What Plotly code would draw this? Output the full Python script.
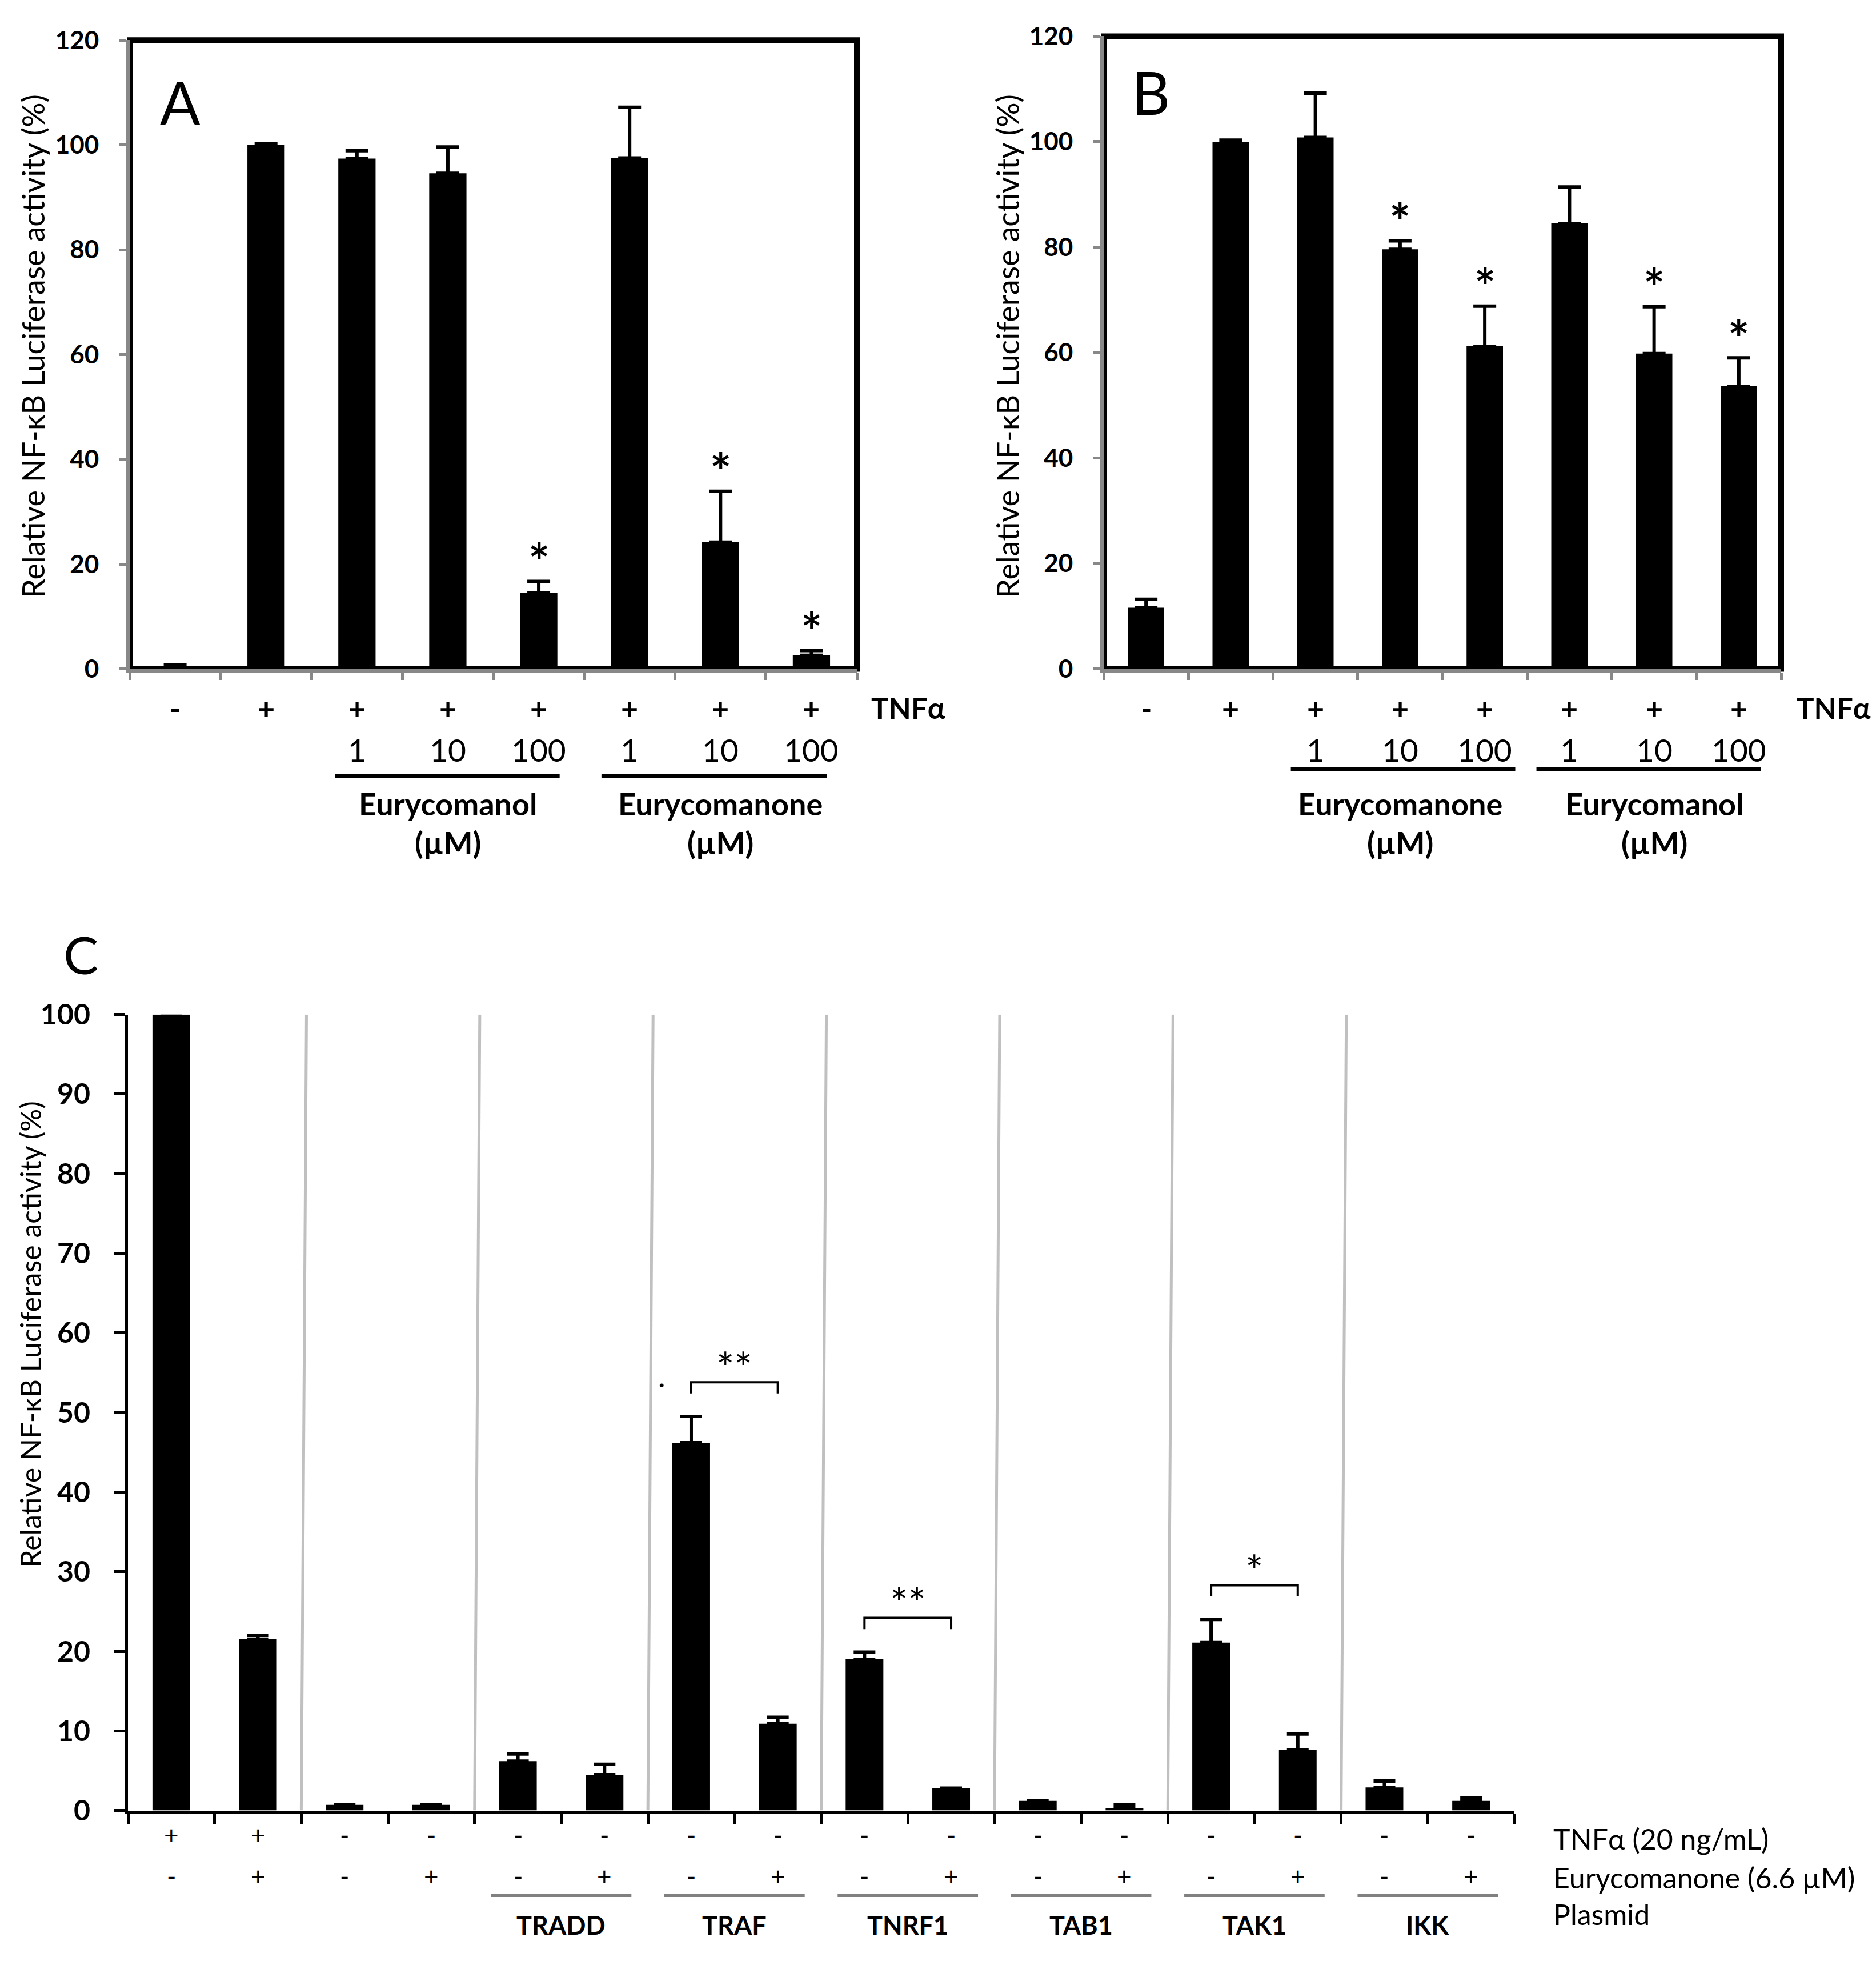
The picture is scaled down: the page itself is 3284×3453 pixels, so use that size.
import plotly.graph_objects as go

W, H = 3284, 3453
FONT = "Lato"

# ---- panel A : TNFa + Eurycomanol / Eurycomanone
a_vals = [0.6, 100.0, 97.4, 94.6, 14.5, 97.5, 24.2, 2.6]
a_err = [0.2, 0.3, 1.5, 5.0, 2.2, 9.7, 9.7, 0.9]
a_tnf = ["-", "+", "+", "+", "+", "+", "+", "+"]
a_dose = ["", "", "1", "10", "100", "1", "10", "100"]
a_sig = ["", "", "", "", "*", "", "*", "*"]
a_groups = ["Eurycomanol", "Eurycomanone"]

# ---- panel B : reversed order of compounds
b_vals = [11.6, 100.0, 100.8, 79.6, 61.2, 84.5, 59.8, 53.6]
b_err = [1.6, 0.3, 8.4, 1.6, 7.6, 6.9, 8.9, 5.4]
b_tnf = ["-", "+", "+", "+", "+", "+", "+", "+"]
b_dose = ["", "", "1", "10", "100", "1", "10", "100"]
b_sig = ["", "", "", "*", "*", "", "*", "*"]
b_groups = ["Eurycomanone", "Eurycomanol"]

# ---- panel C : plasmid overexpression
c_vals = [100.0, 21.5, 0.7, 0.7, 6.2, 4.5, 46.2, 10.9, 19.0, 2.8, 1.2, 0.3, 21.1, 7.6, 2.9, 1.2]
c_err = [0.0, 0.5, 0.0, 0.0, 0.9, 1.3, 3.3, 0.8, 0.9, 0.0, 0.0, 0.4, 2.9, 2.0, 0.8, 0.4]
c_tnf = ["+", "+", "-", "-", "-", "-", "-", "-", "-", "-", "-", "-", "-", "-", "-", "-"]
c_eury = ["-", "+", "-", "+", "-", "+", "-", "+", "-", "+", "-", "+", "-", "+", "-", "+"]
c_plasmid = ["", "", "TRADD", "TRAF", "TNRF1", "TAB1", "TAK1", "IKK"]
c_sig = {"TRAF": "**", "TNRF1": "**", "TAK1": "*"}
c_rows = ["TNFα (20 ng/mL)", "Eurycomanone (6.6 µM)", "Plasmid"]
y_title = "Relative NF-κB Luciferase activity (%)"


def px(p):
    return p / W


def py(p):
    return 1 - p / H


def font(size, bold=False):
    return dict(family=FONT, size=size, color="black", weight="bold" if bold else "normal")


def note(text, x, y, xref="paper", yref="paper", size=40, bold=False, xanchor="center",
         yanchor="middle", angle=0):
    return dict(text=text, x=x, y=y, xref=xref, yref=yref, xanchor=xanchor, yanchor=yanchor,
                textangle=angle, showarrow=False, font=font(size, bold))


fig = go.Figure()
ann = []
shapes = []


def bar_trace(vals, err, xa, ya, bw, cap):
    return go.Bar(
        x=list(range(1, len(vals) + 1)), y=vals, xaxis=xa, yaxis=ya,
        width=bw, marker=dict(color="black", line=dict(width=0)),
        error_y=dict(type="data", array=err, arrayminus=[0] * len(err), symmetric=False,
                     color="black", thickness=6, width=cap),
        hoverinfo="skip")


# A and B share the same style
panels = [
    dict(xa="x", ya="y", vals=a_vals, err=a_err, tnf=a_tnf, dose=a_dose, sig=a_sig,
         groups=a_groups, letter="A", box=(227, 1500, 39, 1159), bw=0.41,
         ulines=[(2.76, 5.23), (5.69, 8.17)], uy=1350, tnf_x=1523, lpos=(315, 148), tx=58),
    dict(xa="x2", ya="y2", vals=b_vals, err=b_err, tnf=b_tnf, dose=b_dose, sig=b_sig,
         groups=b_groups, letter="B", box=(1932, 3118, 32, 1159), bw=0.43,
         ulines=[(2.71, 5.36), (5.61, 8.26)], uy=1338, tnf_x=3143, lpos=(2014, 131), tx=1764),
]

layout_axes = {}
for p in panels:
    xa, ya, vals, err = p["xa"], p["ya"], p["vals"], p["err"]
    fig.add_trace(bar_trace(vals, err, xa, ya, p["bw"], 20))
    x0, x1, y0, y1 = p["box"]
    unit = (y1 - y0) / 120.0
    layout_axes["xaxis" + xa[1:]] = dict(
        domain=[px(x0), px(x1)], range=[0.5, len(vals) + 0.5], anchor=ya,
        tickmode="array", tickvals=[i + 0.5 for i in range(len(vals) + 1)],
        ticks="outside", ticklen=12, tickwidth=5, tickcolor="#888888",
        showticklabels=False, showline=True, linecolor="#888888", linewidth=7,
        showgrid=False, zeroline=False, fixedrange=True)
    layout_axes["yaxis" + ya[1:]] = dict(
        domain=[py(y1), py(y0)], range=[0, 120], anchor=xa,
        tickmode="array", tickvals=list(range(0, 121, 20)),
        ticks="outside", ticklen=12, tickwidth=5, tickcolor="#888888",
        showline=True, linecolor="#888888", linewidth=7,
        tickfont=font(44, True), ticklabelstandoff=26,
        showgrid=False, zeroline=False, fixedrange=True)
    # black frame behind the grey axes
    shapes.append(dict(type="rect", xref=xa + " domain", yref=ya + " domain", x0=0, x1=1, y0=0, y1=1,
                       line=dict(color="black", width=10), layer="below"))
    for i, (t, d, s) in enumerate(zip(p["tnf"], p["dose"], p["sig"])):
        ann.append(note(t, i + 1, py(1229), xref=xa, size=52, bold=True))
        if d:
            ann.append(note(d, i + 1, py(1303), xref=xa, size=55))
        if s:
            ann.append(note(s, i + 1, vals[i] + err[i] + 36 / unit, xref=xa, yref=ya,
                            size=88, bold=True))
    for (u0, u1), g in zip(p["ulines"], p["groups"]):
        shapes.append(dict(type="line", xref=xa, yref="paper", x0=u0, x1=u1,
                           y0=py(p["uy"]), y1=py(p["uy"]), line=dict(color="black", width=7)))
        mid = round((u0 + u1) / 2)
        ann.append(note(g, mid, py(1399), xref=xa, size=54, bold=True))
        ann.append(note("(µM)", mid, py(1468), xref=xa, size=54, bold=True))
    ann.append(note("TNFα", px(p["tnf_x"]), py(1228), size=51, bold=True, xanchor="left"))
    ann.append(note(p["letter"], px(p["lpos"][0]), py(p["lpos"][1]), size=104))
    ann.append(note(y_title, px(p["tx"]), py(584), size=54, angle=-90))

# ---- panel C
fig.add_trace(bar_trace(c_vals, c_err, "x3", "y3", 0.435, 19))
n = len(c_vals)
c_top, c_bot = 1775, 3193
c_unit = (c_bot - c_top) / 100.0
layout_axes["xaxis3"] = dict(domain=[px(224), px(2651)], range=[0.5, n + 0.5], anchor="y3",
                             tickmode="array", tickvals=[i + 0.5 for i in range(n + 1)],
                             ticks="outside", ticklen=17, tickwidth=5, tickcolor="black",
                             showticklabels=False, showline=True, linecolor="black", linewidth=6,
                             showgrid=False, zeroline=False, fixedrange=True)
layout_axes["yaxis3"] = dict(domain=[py(c_bot), py(c_top)], range=[0, 100], anchor="x3",
                             tickmode="array", tickvals=list(range(0, 101, 10)),
                             ticks="outside", ticklen=18, tickwidth=5, tickcolor="black",
                             showline=True, linecolor="black", linewidth=6,
                             tickfont=font(50, True), ticklabelstandoff=32,
                             showgrid=False, zeroline=False, fixedrange=True)

# grey separators between the pairs (slightly slanted as in the original)
for g in range(1, len(c_plasmid)):
    b = 2 * g + 0.5
    shapes.append(dict(type="line", xref="x3", yref="y3", x0=b, x1=b + 0.06, y0=0, y1=100,
                       line=dict(color="#c0c0c0", width=5), layer="below"))

for i, (t, e) in enumerate(zip(c_tnf, c_eury)):
    ann.append(note(t, i + 1, py(3236), xref="x3", size=44))
    ann.append(note(e, i + 1, py(3309), xref="x3", size=44))

for g, name in enumerate(c_plasmid):
    if not name:
        continue
    mid = 2 * g + 1.5
    shapes.append(dict(type="line", xref="x3", yref="paper", x0=mid - 0.81, x1=mid + 0.81,
                       y0=py(3344), y1=py(3344), line=dict(color="#808080", width=6)))
    ann.append(note(name, mid, py(3397), xref="x3", size=45, bold=True))
    if name in c_sig:
        i0, i1 = 2 * g, 2 * g + 1
        left, right = i0 + 1, i1 + 1
        top = max(c_vals[i0] + c_err[i0], c_vals[i1] + c_err[i1]) + 4.3
        drop = 20 / c_unit
        shapes.append(dict(type="path", xref="x3", yref="y3",
                           path=f"M {left},{top - drop} L {left},{top} L {right},{top} L {right},{top - drop}",
                           line=dict(color="black", width=4)))
        ann.append(note(c_sig[name], mid, top + 27 / c_unit, xref="x3", yref="y3", size=74))
        if name == "TRAF":
            # stray dot left of the TRAF bracket in the source figure
            ann.append(note(".", left - 0.34, top + 8 / c_unit, xref="x3", yref="y3",
                            size=44, bold=True))

for txt, yy in zip(c_rows, [3243, 3313, 3378]):
    ann.append(note(txt, px(2717), py(yy), size=50, xanchor="left"))

ann.append(note("C", px(141), py(1667), size=92))
ann.append(note(y_title, px(53), py(2345), size=50, angle=-90))

fig.update_layout(
    width=W, height=H, margin=dict(l=0, r=0, t=0, b=0),
    paper_bgcolor="white", plot_bgcolor="white", showlegend=False,
    annotations=ann, shapes=shapes, font=dict(family=FONT, color="black"),
    **layout_axes)

# pin the figure to the page corner so nothing shifts it
pin = (
    "document.documentElement.style.margin='0px';"
    "document.body.style.margin='0px';"
    "document.body.style.padding='0px';"
    "document.documentElement.style.overflow='hidden';"
    "document.body.style.overflow='hidden';"
    "var gd=document.getElementById('{plot_id}');"
    "gd.style.position='absolute';gd.style.left='0px';gd.style.top='0px';"
)
fig.write_html("out.html", config={"displayModeBar": False}, post_script=pin)
